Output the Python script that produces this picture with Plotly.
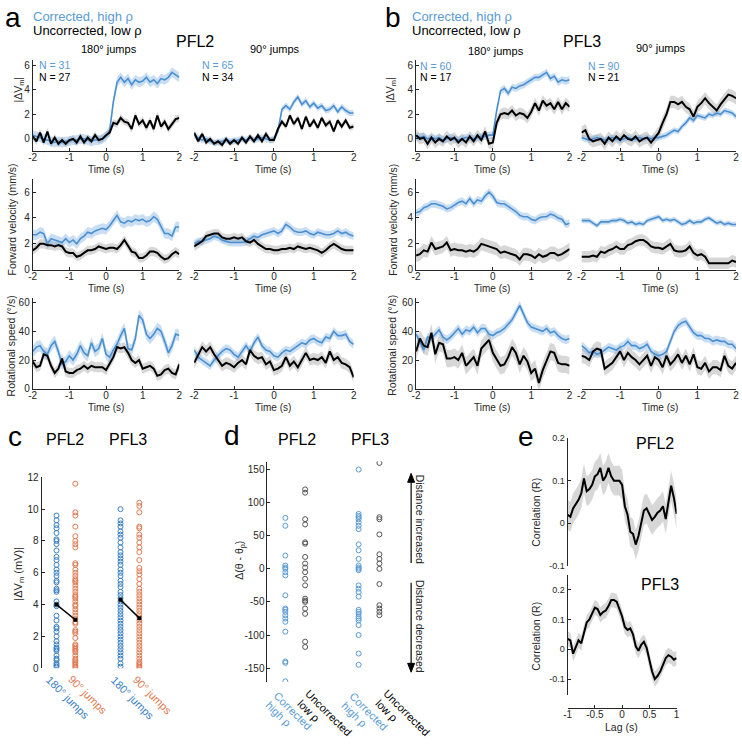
import plotly.graph_objects as go

W, H = 742, 751
FONT = "Liberation Sans, Arial, sans-serif"
BLUE = "#4a8fd0"
BLUE_TXT = "#5b9bd5"
BLUE_BAND = "rgba(100,160,220,0.35)"
GRAY_BAND = "rgba(150,150,150,0.38)"
AX = "#262626"
C_BLUE = "#3a80c2"
C_ORANGE = "#e07a52"
D_BLUE = "#5b9bd5"
D_GRAY = "#555555"

TIME = [round(-2 + 0.1 * i, 1) for i in range(41)]
LAG = [round(-1 + 0.05 * i, 2) for i in range(41)]
TIME_TICKS = [-2, -1, 0, 1, 2]
TIME_TICKTEXT = ["-2", "-1", "0", "1", "2"]

# ---- |dVm| ----
pfl2_180_dvm_corr = [0.3, 0.2, 0.1, 0.0, -0.1, -0.2, -0.3, -0.2, -0.3, -0.2, -0.2, -0.1, -0.1, 0.0, 0.0, -0.1, -0.2, -0.1, -0.1, 0.0,
                     0.2, 0.7, 3.0, 4.6, 5.0, 4.6, 4.9, 4.4, 4.8, 4.6, 4.7, 5.0, 4.6, 4.8, 4.5, 4.9, 4.8, 5.0, 5.4, 5.2, 5.0]
pfl2_180_dvm_unc = [0.2, -0.2, 0.5, -0.3, 0.6, -0.4, 0.1, -0.4, -0.1, -0.4, -0.1, 0.0, -0.3, 0.2, -0.3, 0.1, -0.2, 0.3, -0.1, 0.0,
                    0.3, 0.5, 1.3, 1.2, 1.7, 1.4, 1.3, 0.8, 1.9, 1.2, 1.5, 0.9, 1.5, 0.8, 1.9, 1.0, 1.4, 0.8, 1.2, 1.6, 1.7]
pfl2_90_dvm_corr = [0.3, 0.1, -0.1, 0.0, -0.2, -0.3, -0.3, -0.2, -0.1, -0.2, -0.2, -0.1, 0.0, -0.1, 0.1, -0.1, 0.0, 0.1, 0.0, -0.1,
                    0.0, 0.6, 2.4, 2.7, 2.4, 3.0, 3.4, 2.8, 3.1, 2.6, 2.9, 2.5, 2.7, 2.3, 2.4, 2.7, 2.2, 2.6, 2.3, 2.1, 2.1]
pfl2_90_dvm_unc = [0.5, -0.2, 0.4, -0.3, 0.0, -0.4, -0.2, -0.5, 0.0, -0.4, -0.1, -0.4, 0.1, -0.3, 0.2, -0.2, 0.3, -0.2, 0.4, -0.1,
                   -0.1, 0.8, 1.4, 1.0, 1.9, 1.2, 1.7, 0.8, 1.8, 1.0, 1.5, 0.9, 1.7, 1.1, 1.4, 0.6, 1.5, 1.0, 1.5, 0.9, 1.0]
pfl3_180_dvm_corr = [0.2, 0.1, 0.2, 0.0, 0.1, 0.0, 0.1, -0.1, 0.0, 0.1, 0.0, -0.1, 0.0, 0.1, 0.1, 0.0, 0.1, 0.2, 0.2, 0.3,
                     0.3, 2.3, 3.9, 4.1, 3.7, 4.2, 4.1, 4.3, 4.4, 4.6, 4.8, 5.0, 5.0, 5.2, 5.4, 4.9, 5.1, 4.6, 4.8, 4.7, 4.8]
pfl3_180_dvm_unc = [0.3, 0.0, 0.1, -0.4, 0.1, -0.3, 0.0, -0.2, 0.2, -0.1, 0.1, -0.3, 0.0, -0.3, 0.2, -0.2, 0.3, -0.1, 0.6, -0.4,
                    -0.3, 1.3, 2.0, 2.1, 2.0, 2.3, 1.9, 2.1, 2.0, 1.7, 2.2, 2.9, 2.3, 3.1, 2.7, 2.9, 2.4, 3.0, 2.4, 2.9, 2.6]
pfl3_90_dvm_corr = [0.1, 0.0, -0.1, 0.0, 0.1, 0.0, -0.1, 0.0, 0.1, 0.0, -0.1, 0.0, 0.1, 0.0, 0.0, 0.1, 0.0, 0.1, 0.0, 0.1,
                    0.1, 0.2, 0.3, 0.5, 0.7, 0.6, 1.0, 1.3, 1.7, 1.5, 1.9, 1.8, 1.7, 2.0, 1.9, 2.1, 2.0, 2.3, 2.2, 2.1, 1.8]
pfl3_90_dvm_unc = [0.5, 0.7, 0.0, -0.2, -0.1, 0.0, -0.4, 0.1, -0.2, 0.2, -0.1, 0.3, 0.0, -0.1, 0.2, -0.2, 0.0, 0.1, -0.3, 0.1,
                   0.5, 1.3, 2.0, 3.0, 3.0, 2.8, 3.0, 2.6, 2.4, 1.8, 2.6, 2.9, 3.3, 2.9, 2.6, 2.3, 2.8, 3.2, 3.6, 3.5, 3.3]

# ---- Forward velocity ----
pfl2_180_fv_corr = [2.7, 2.7, 2.9, 2.8, 2.0, 2.4, 2.3, 2.2, 2.1, 2.4, 2.1, 2.3, 2.0, 2.4, 2.6, 2.9, 2.8, 3.0, 3.1, 3.2,
                    3.1, 3.4, 3.8, 4.2, 3.7, 3.6, 3.8, 3.7, 3.9, 3.8, 3.9, 3.7, 3.8, 4.1, 3.9, 3.4, 2.8, 2.8, 2.6, 3.3, 3.3]
pfl2_180_fv_unc = [1.5, 1.7, 2.0, 2.0, 1.9, 1.9, 1.8, 1.9, 1.8, 1.4, 1.3, 1.3, 1.0, 1.1, 1.3, 1.5, 1.5, 1.6, 1.8, 1.7,
                   1.6, 1.7, 1.7, 1.6, 1.9, 2.3, 1.9, 1.4, 1.3, 0.9, 0.9, 1.1, 1.4, 1.4, 1.3, 1.0, 0.8, 0.9, 1.2, 1.4, 1.2]
pfl2_90_fv_corr = [2.0, 2.2, 2.2, 2.3, 2.4, 2.6, 2.5, 2.3, 2.2, 2.1, 2.1, 2.1, 2.1, 2.2, 2.4, 2.6, 2.5, 2.7, 2.8, 2.9,
                   3.0, 2.8, 3.0, 3.5, 3.3, 3.0, 2.9, 2.9, 3.0, 2.8, 2.7, 2.9, 2.8, 2.7, 2.7, 2.8, 3.0, 2.8, 2.9, 2.7, 2.6]
pfl2_90_fv_unc = [1.8, 2.0, 2.2, 2.6, 2.7, 2.8, 2.8, 2.5, 2.4, 2.4, 2.5, 2.4, 2.5, 2.2, 2.1, 2.3, 2.0, 1.8, 1.6, 1.6,
                  1.5, 1.5, 1.6, 1.6, 1.7, 1.6, 1.8, 1.7, 1.6, 1.7, 1.6, 1.5, 1.3, 1.5, 1.8, 2.0, 1.8, 1.6, 1.5, 1.5, 1.5]
pfl3_180_fv_corr = [4.4, 4.5, 4.8, 4.9, 5.1, 5.1, 5.0, 4.9, 4.7, 4.8, 5.0, 5.2, 5.3, 5.1, 5.5, 5.1, 5.4, 5.3, 5.7, 6.0,
                    5.7, 5.2, 5.1, 5.1, 4.9, 4.7, 4.5, 4.2, 4.1, 4.1, 3.9, 3.8, 4.0, 4.1, 4.1, 4.3, 4.2, 4.0, 3.9, 3.5, 3.6]
pfl3_180_fv_unc = [1.1, 1.2, 1.5, 1.4, 2.1, 1.6, 1.7, 1.8, 2.1, 1.5, 1.6, 1.5, 1.5, 1.4, 1.5, 1.4, 1.6, 2.0, 1.9, 1.8,
                   1.7, 1.6, 1.3, 1.4, 1.3, 1.2, 1.1, 0.8, 1.2, 1.2, 1.1, 0.9, 1.2, 1.0, 1.1, 1.3, 1.3, 1.1, 1.2, 1.4, 1.6]
pfl3_90_fv_corr = [3.8, 3.8, 3.8, 3.6, 3.4, 3.7, 3.7, 3.7, 3.8, 3.8, 3.9, 3.8, 3.6, 3.7, 3.5, 3.6, 3.5, 3.8, 3.9, 4.0,
                   4.1, 3.8, 3.9, 3.8, 3.9, 3.7, 3.5, 3.6, 3.8, 3.6, 3.7, 3.7, 3.9, 4.0, 3.8, 3.6, 3.7, 3.5, 3.6, 3.5, 3.5]
pfl3_90_fv_unc = [1.0, 1.0, 1.0, 1.1, 1.0, 1.4, 1.3, 1.5, 1.6, 1.8, 1.6, 1.6, 1.9, 2.0, 2.2, 2.3, 2.3, 2.1, 1.8, 1.7,
                  1.7, 1.6, 1.8, 2.0, 1.5, 1.4, 1.4, 1.5, 1.8, 1.3, 1.1, 1.2, 1.0, 0.5, 0.5, 0.5, 0.5, 0.5, 0.5, 0.7, 0.6]

# ---- Rotational speed ----
pfl2_180_rs_corr = [26, 29, 30, 26, 24, 30, 33, 26, 17, 19, 23, 20, 24, 30, 25, 23, 32, 26, 28, 35,
                    24, 22, 27, 31, 37, 42, 28, 27, 35, 51, 48, 38, 35, 38, 42, 40, 33, 25, 30, 38, 37]
pfl2_180_rs_unc = [19, 15, 16, 24, 23, 16, 11, 14, 21, 12, 11, 11, 13, 14, 16, 14, 16, 15, 15, 15,
                   13, 18, 22, 29, 28, 29, 25, 20, 18, 20, 14, 15, 16, 14, 9, 10, 13, 14, 11, 10, 17]
pfl2_90_rs_corr = [27, 22, 20, 18, 16, 20, 23, 26, 28, 27, 24, 22, 26, 30, 26, 32, 36, 30, 27, 26,
                   23, 22, 25, 27, 26, 28, 30, 32, 31, 34, 35, 33, 32, 36, 35, 40, 37, 37, 38, 33, 31]
pfl2_90_rs_unc = [18, 24, 29, 26, 29, 24, 20, 16, 18, 17, 15, 18, 20, 17, 27, 23, 21, 22, 17, 19,
                  13, 14, 16, 22, 16, 19, 15, 20, 25, 20, 21, 20, 22, 18, 26, 20, 22, 18, 17, 15, 8]
pfl3_180_rs_corr = [38, 33, 27, 36, 35, 38, 41, 36, 34, 36, 39, 42, 38, 41, 40, 43, 39, 42, 42, 38,
                    37, 39, 40, 42, 45, 48, 53, 58, 52, 46, 43, 42, 41, 40, 42, 39, 40, 37, 35, 34, 35]
pfl3_180_rs_unc = [26, 35, 30, 29, 39, 24, 32, 31, 21, 21, 22, 20, 25, 16, 19, 22, 16, 28, 31, 34,
                   25, 20, 16, 17, 22, 29, 25, 17, 23, 19, 11, 14, 4, 13, 20, 26, 25, 18, 17, 17, 16]
pfl3_90_rs_corr = [30, 28, 25, 26, 24, 25, 27, 29, 28, 27, 29, 30, 33, 30, 30, 28, 29, 31, 26, 24,
                   23, 24, 26, 33, 40, 44, 46, 47, 43, 39, 37, 37, 35, 35, 33, 34, 33, 33, 31, 31, 28]
pfl3_90_rs_unc = [23, 22, 20, 26, 28, 27, 14, 16, 18, 22, 26, 20, 25, 22, 20, 17, 20, 23, 16, 22,
                  20, 15, 23, 17, 20, 24, 18, 23, 17, 24, 15, 14, 18, 12, 15, 15, 13, 23, 16, 14, 18]

# ---- panel e: cross-correlation ----
e_pfl2 = [0.02, 0.015, 0.035, 0.045, 0.055, 0.07, 0.105, 0.075, 0.08, 0.09, 0.11, 0.115, 0.13, 0.10, 0.11, 0.13, 0.11, 0.10, 0.10, 0.10,
          0.09, 0.04, 0.02, -0.02, -0.025, -0.05, -0.03, 0.0, 0.03, 0.035, 0.02, 0.008, 0.015, 0.025, 0.03, 0.04, 0.01, 0.05, 0.088, 0.06, 0.022]
e_pfl3 = [0.035, 0.03, -0.015, 0.005, 0.03, 0.02, 0.06, 0.09, 0.10, 0.12, 0.14, 0.135, 0.115, 0.125, 0.13, 0.145, 0.165, 0.165, 0.16, 0.135,
          0.11, 0.075, 0.065, 0.07, 0.05, 0.01, -0.005, 0.015, 0.025, 0.005, -0.04, -0.075, -0.10, -0.09, -0.075, -0.05, -0.03, -0.02, -0.025, -0.035, -0.03]
e_sem = [0.035, 0.025]

# ---- panel c: |dVm| per cell ----
c_pfl2_180 = [9.6, 9.3, 9.0, 8.8, 8.5, 8.1, 8.0, 7.8, 7.4, 7.0, 6.8, 6.5, 6.2, 6.0, 5.8, 5.5, 5.4, 5.0, 4.9, 4.8,
              4.2, 4.0, 3.9, 3.3, 3.0, 2.6, 2.5, 2.3, 2.0, 1.7, 1.5, 1.3, 1.2, 1.1, 0.8, 0.6, 0.5, 0.3, 0.2, 0.1]
c_pfl2_90 = [11.6, 9.8, 9.6, 8.9, 8.3, 8.0, 7.8, 7.6, 6.6, 6.5, 6.2, 6.0, 5.8, 5.6, 5.5, 5.4, 5.2, 5.0, 4.8, 4.6,
             4.5, 4.4, 4.2, 4.0, 3.9, 3.7, 3.5, 3.3, 3.1, 2.9, 2.8, 2.4, 2.3, 2.2, 1.9, 1.5, 1.4, 1.3, 1.2, 1.1,
             1.0, 0.8, 0.6, 0.5, 0.4, 0.3, 0.2, 0.1, 0.0]
c_pfl3_180 = [10.0, 9.3, 9.1, 8.9, 8.6, 8.4, 8.2, 7.9, 7.6, 7.3, 7.1, 6.9, 6.7, 6.5, 6.2, 6.0, 5.8, 5.5, 5.3, 5.1,
              4.8, 4.6, 4.4, 4.2, 4.0, 3.8, 3.6, 3.4, 3.2, 3.0, 2.8, 2.6, 2.4, 2.2, 2.0, 1.8, 1.6, 1.4, 1.2, 1.0,
              0.8, 0.6, 0.3, 0.1]
c_pfl3_90 = [10.4, 10.2, 9.8, 8.9, 8.8, 8.4, 8.2, 7.9, 7.6, 7.3, 6.8, 6.3, 6.1, 5.9, 5.6, 5.3, 5.0, 4.8, 4.6, 4.4,
             4.2, 4.0, 3.8, 3.6, 3.4, 3.2, 3.0, 2.8, 2.6, 2.4, 2.2, 2.0, 1.8, 1.6, 1.4, 1.2, 1.0, 0.8, 0.6, 0.4,
             0.3, 0.2, 0.1, 0.0]
c_mean_pfl2 = [4.0, 3.05]
c_mean_pfl3 = [4.3, 3.15]
C_POS = [1, 2, 4.4, 5.4]

# ---- panel d: change in distance ----
d_pfl2_corr = [77, 65, 20, 5, 2, 0, -5, -10, -40, -60, -62, -65, -70, -75, -80, -95, -140, -142, -170]
d_pfl2_unc = [120, 115, 75, 67, 40, 38, 18, 8, 2, -5, -15, -25, -45, -48, -50, -60, -68, -110, -118]
d_pfl3_corr = [150, 83, 80, 78, 75, 70, 65, 60, 37, 28, 15, 5, 2, 0, -2, -25, -30, -35, -42, -62,
               -65, -68, -72, -75, -78, -85, -100, -128, -145]
d_pfl3_unc = [160, 78, 75, 52, 22, 15, 8, 0, -23, -55, -60, -65, -70]
D_POS = [1, 2, 4.7, 5.75]

fig = go.Figure()
layout = {}
ann = []
shapes = []
naxes = [0]


def pxx(x):
    return x / W


def pyy(y):
    return 1 - y / H


def axstyle(**kw):
    d = dict(showline=True, linecolor=AX, linewidth=1, ticks="inside", ticklen=3, tickcolor=AX,
             showgrid=False, zeroline=False, tickfont=dict(size=10, color=AX, family=FONT))
    d.update(kw)
    return d


HIDDEN = dict(showline=False, showticklabels=False, ticks="", showgrid=False, zeroline=False)


def new_axes(xdom, ydom, xr, yr, xkw=None, ykw=None):
    naxes[0] += 1
    n = naxes[0]
    s = "" if n == 1 else str(n)
    xk = dict(domain=[pxx(xdom[0]), pxx(xdom[1])], range=xr, anchor="y" + s)
    xk.update(axstyle())
    if xkw:
        xk.update(xkw)
    yk = dict(domain=[pyy(ydom[1]), pyy(ydom[0])], range=yr, anchor="x" + s)
    yk.update(axstyle())
    if ykw:
        yk.update(ykw)
    layout["xaxis" + s] = xk
    layout["yaxis" + s] = yk
    return "x" + s, "y" + s


def txt(x, y, s, size=10, color=AX, angle=0, xanchor="center", yanchor="middle", align="center"):
    ann.append(dict(x=pxx(x), y=pyy(y), xref="paper", yref="paper", text=s, showarrow=False,
                    font=dict(size=size, color=color, family=FONT), textangle=angle,
                    xanchor=xanchor, yanchor=yanchor, align=align))


def band(xa, ya, xs, mean, sem, color):
    upper = [m + sem for m in mean]
    lower = [m - sem for m in mean]
    fig.add_trace(go.Scatter(x=xs + xs[::-1], y=upper + lower[::-1], fill="toself", fillcolor=color,
                             line=dict(width=0), mode="lines", hoverinfo="skip", showlegend=False,
                             xaxis=xa, yaxis=ya))


def line(xa, ya, xs, ys, color, width):
    fig.add_trace(go.Scatter(x=xs, y=ys, mode="lines", line=dict(color=color, width=width),
                             showlegend=False, xaxis=xa, yaxis=ya))


COLS = {"a180": (29, 177), "a90": (192, 353), "b180": (416, 571), "b90": (583, 739)}
ROWS = {"dvm": ((55, 147.5), [-1, 6.4], [0, 2, 4, 6]),
        "fv": ((176, 268), [0, 7], [0, 2, 4, 6]),
        "rs": ((297, 389), [0, 63], [0, 20, 40, 60])}

PANELS = [
    ("a180", "dvm", pfl2_180_dvm_corr, pfl2_180_dvm_unc, 0.4, 0.3),
    ("a90", "dvm", pfl2_90_dvm_corr, pfl2_90_dvm_unc, 0.25, 0.25),
    ("b180", "dvm", pfl3_180_dvm_corr, pfl3_180_dvm_unc, 0.3, 0.45),
    ("b90", "dvm", pfl3_90_dvm_corr, pfl3_90_dvm_unc, 0.25, 0.5),
    ("a180", "fv", pfl2_180_fv_corr, pfl2_180_fv_unc, 0.4, 0.35),
    ("a90", "fv", pfl2_90_fv_corr, pfl2_90_fv_unc, 0.3, 0.35),
    ("b180", "fv", pfl3_180_fv_corr, pfl3_180_fv_unc, 0.3, 0.5),
    ("b90", "fv", pfl3_90_fv_corr, pfl3_90_fv_unc, 0.2, 0.45),
    ("a180", "rs", pfl2_180_rs_corr, pfl2_180_rs_unc, 4, 3.5),
    ("a90", "rs", pfl2_90_rs_corr, pfl2_90_rs_unc, 3, 4),
    ("b180", "rs", pfl3_180_rs_corr, pfl3_180_rs_unc, 3, 6),
    ("b90", "rs", pfl3_90_rs_corr, pfl3_90_rs_unc, 3, 5),
]

for col, row, corr, unc, sc, su in PANELS:
    ydom, yr, yt = ROWS[row]
    showy = col in ("a180", "b180")
    ykw = dict(tickvals=yt, ticktext=[str(v) for v in yt])
    if not showy:
        ykw = dict(HIDDEN)
    xa, ya = new_axes(COLS[col], ydom, [-2, 2], yr,
                      xkw=dict(tickvals=TIME_TICKS, ticktext=TIME_TICKTEXT, ticklabelstandoff=-3),
                      ykw=ykw)
    band(xa, ya, TIME, unc, su, GRAY_BAND)
    band(xa, ya, TIME, corr, sc, BLUE_BAND)
    line(xa, ya, TIME, corr, BLUE, 1.6)
    line(xa, ya, TIME, unc, "#000000", 2)

# Time labels
for yy in (166, 287, 408):
    for cx in (103, 272, 493, 662):
        txt(cx, yy, "Time (s)", size=10)

# ---- panel c ----
xa, ya = new_axes((38, 160), (479, 673), [0.21, 6.63], [0, 12],
                  xkw=dict(HIDDEN),
                  ykw=dict(tickvals=[0, 2, 4, 6, 8, 10, 12], ticktext=["0", "2", "4", "6", "8", "10", "12"]))
for pos, vals, col in ((C_POS[0], c_pfl2_180, C_BLUE), (C_POS[1], c_pfl2_90, C_ORANGE),
                       (C_POS[2], c_pfl3_180, C_BLUE), (C_POS[3], c_pfl3_90, C_ORANGE)):
    fig.add_trace(go.Scatter(x=[pos] * len(vals), y=vals, mode="markers",
                             marker=dict(symbol="circle-open", size=5, color=col, line=dict(width=1)),
                             showlegend=False, xaxis=xa, yaxis=ya))
for xs, ms in (([C_POS[0], C_POS[1]], c_mean_pfl2), ([C_POS[2], C_POS[3]], c_mean_pfl3)):
    fig.add_trace(go.Scatter(x=xs, y=ms, mode="lines+markers", line=dict(color="#000", width=1.5),
                             marker=dict(symbol="square", size=4, color="#000"),
                             showlegend=False, xaxis=xa, yaxis=ya))

# ---- panel d ----
xa, ya = new_axes((266, 420), (463, 687), [0.1, 7.8], [-171, 162],
                  xkw=dict(HIDDEN),
                  ykw=dict(tickvals=[-150, -100, -50, 0, 50, 100, 150],
                           ticktext=["-150", "-100", "-50", "0", "50", "100", "150"]))
for pos, vals, col in ((D_POS[0], d_pfl2_corr, D_BLUE), (D_POS[1], d_pfl2_unc, D_GRAY),
                       (D_POS[2], d_pfl3_corr, D_BLUE), (D_POS[3], d_pfl3_unc, D_GRAY)):
    fig.add_trace(go.Scatter(x=[pos] * len(vals), y=vals, mode="markers",
                             marker=dict(symbol="circle-open", size=5, color=col, line=dict(width=1)),
                             showlegend=False, xaxis=xa, yaxis=ya))

# ---- panel e ----
E_TV = [-0.1, 0, 0.1, 0.2]
E_TT = ["-0.1", "0", "0.1", "0.2"]
xa, ya = new_axes((569, 679), (439, 569), [-1, 1], [-0.1, 0.2],
                  xkw=dict(HIDDEN),
                  ykw=dict(tickvals=E_TV, ticktext=E_TT, tickfont=dict(size=9, color=AX, family=FONT)))
band(xa, ya, LAG, e_pfl2, e_sem[0], GRAY_BAND)
line(xa, ya, LAG, e_pfl2, "#000", 2)
xa, ya = new_axes((569, 679), (578, 700), [-1, 1], [-0.153, 0.25],
                  xkw=dict(anchor="free", position=pyy(713), tickvals=[-1, -0.5, 0, 0.5, 1],
                           ticktext=["-1", "-0.5", "0", "0.5", "1"], ticklabelstandoff=-3),
                  ykw=dict(tickvals=E_TV, ticktext=E_TT, tickfont=dict(size=9, color=AX, family=FONT)))
band(xa, ya, LAG, e_pfl3, e_sem[1], GRAY_BAND)
line(xa, ya, LAG, e_pfl3, "#000", 2)

# ---- text: panels a & b ----
txt(9, 12, "a", size=28, color="#000")
txt(27, 11, "Corrected, high ρ", size=13, color=BLUE_TXT, xanchor="left")
txt(27, 25, "Uncorrected, low ρ", size=13, color="#000", xanchor="left")
txt(193, 36, "PFL2", size=16, color="#000")
txt(106, 44, "180° jumps", size=11, color="#000")
txt(274, 44, "90° jumps", size=11, color="#000")
txt(33, 60, "N = 31", size=10.5, color=BLUE_TXT, xanchor="left")
txt(33, 72, "N = 27", size=10.5, color="#000", xanchor="left")
txt(198, 60, "N = 65", size=10.5, color=BLUE_TXT, xanchor="left")
txt(198, 72, "N = 34", size=10.5, color="#000", xanchor="left")

txt(393, 12, "b", size=28, color="#000")
txt(410, 11, "Corrected, high ρ", size=13, color=BLUE_TXT, xanchor="left")
txt(410, 25, "Uncorrected, low ρ", size=13, color="#000", xanchor="left")
txt(583, 36, "PFL3", size=16, color="#000")
txt(497, 46, "180° jumps", size=11, color="#000")
txt(663, 43, "90° jumps", size=11, color="#000")
txt(418, 61, "N = 60", size=10.5, color=BLUE_TXT, xanchor="left")
txt(418, 72, "N = 17", size=10.5, color="#000", xanchor="left")
txt(588, 61, "N = 90", size=10.5, color=BLUE_TXT, xanchor="left")
txt(588, 72, "N = 21", size=10.5, color="#000", xanchor="left")

for x0 in (15, 390):
    txt(x0, 85, "|ΔV<sub>m</sub>|", size=10.5, angle=-90)
for x0 in (8, 392):
    txt(x0, 217, "Forward velocity (mm/s)", size=10.5, angle=-90)
    txt(x0, 345, "Rotational speed (°/s)", size=10.5, angle=-90)

# ---- text: panel c ----
txt(11, 437, "c", size=28, color="#000")
txt(62, 441, "PFL2", size=16, color="#000")
txt(125, 441, "PFL3", size=16, color="#000")
txt(15, 577, "|ΔV<sub>m</sub> (mV)|", size=11, angle=-90)
txt(65, 703, "180° jumps", size=11, color=C_BLUE, angle=45)
txt(85, 700, "90° jumps", size=11, color=C_ORANGE, angle=45)
txt(130, 703, "180° jumps", size=11, color=C_BLUE, angle=45)
txt(150, 700, "90° jumps", size=11, color=C_ORANGE, angle=45)

# ---- text: panel d ----
txt(230, 436, "d", size=28, color="#000")
txt(296, 441, "PFL2", size=16, color="#000")
txt(369, 441, "PFL3", size=16, color="#000")
txt(238, 563, "Δ(θ - θ<sub>p</sub>)", size=10.5, angle=-90)
# two-line rotated category labels, one annotation per line
txt(292, 716, "Corrected", size=11, color=D_BLUE, angle=45)
txt(277, 720, "high ρ", size=11, color=D_BLUE, angle=45)
txt(328, 718, "Uncorrected", size=11, color="#000", angle=45)
txt(308, 716, "low ρ", size=11, color="#000", angle=45)
txt(368, 716, "Corrected", size=11, color=D_BLUE, angle=45)
txt(353, 720, "high ρ", size=11, color=D_BLUE, angle=45)
txt(407, 718, "Uncorrected", size=11, color="#000", angle=45)
txt(387, 716, "low ρ", size=11, color="#000", angle=45)
txt(420, 521, "Distance increased", size=10.5, angle=90)
txt(420, 630, "Distance decreased", size=10.5, angle=90)

# arrows drawn as shapes (paper coordinates)
for head, tail, sgn in ((475, 566, 1), (677, 586, -1)):
    shapes.append(dict(type="line", xref="paper", yref="paper", x0=pxx(411), x1=pxx(411),
                       y0=pyy(tail), y1=pyy(head + sgn * 6), line=dict(color="#000", width=1.2)))
    path = "M {} {} L {} {} L {} {} Z".format(pxx(411), pyy(head), pxx(407.5), pyy(head + sgn * 9),
                                              pxx(414.5), pyy(head + sgn * 9))
    shapes.append(dict(type="path", xref="paper", yref="paper", path=path,
                       fillcolor="#000", line=dict(color="#000", width=1)))

# ---- text: panel e ----
txt(527, 437, "e", size=28, color="#000")
txt(657, 445, "PFL2", size=16, color="#000")
txt(662, 588, "PFL3", size=16, color="#000")
txt(537, 514, "Correlation (R)", size=10.5, angle=-90)
txt(537, 640, "Correlation (R)", size=10.5, angle=-90)
txt(623, 733, "Lag (s)", size=10.5)

fig.update_layout(width=W, height=H, margin=dict(l=0, r=0, t=0, b=0),
                  paper_bgcolor="white", plot_bgcolor="rgba(0,0,0,0)",
                  font=dict(family=FONT, color=AX), annotations=ann, shapes=shapes, **layout)
fig.write_html("out.html", config={"displayModeBar": False},
               post_script="document.body.style.margin='0';")
